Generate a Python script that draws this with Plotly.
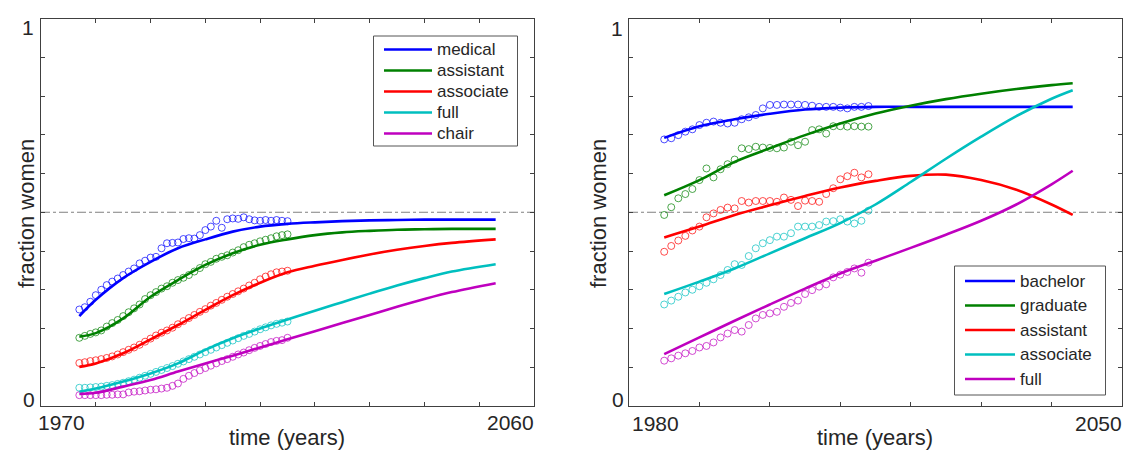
import plotly.graph_objects as go

# ---------------- data: left panel (academic medicine) ----------------
L_data_years = list(range(1977, 2016))
L_medical_pts = [.249, .255, .269, .286, .300, .312, .321, .329, .338, .347, .355, .368, .375,
                 .383, .385, .407, .420, .421, .422, .431, .433, .432, .441, .454, .463, .478,
                 .460, .482, .484, .483, .487, .482, .479, .478, .480, .478, .480, .478, .477]
L_assistant_pts = [.176, .181, .186, .190, .195, .205, .214, .222, .232, .242, .252, .262, .276,
                   .286, .294, .303, .309, .318, .325, .331, .338, .347, .356, .366, .372, .380,
                   .385, .389, .396, .402, .410, .416, .420, .425, .429, .433, .438, .441, .443]
L_associate_pts = [.111, .113, .116, .118, .121, .124, .128, .133, .139, .145, .151, .158, .166,
                   .174, .182, .189, .195, .202, .211, .219, .227, .235, .243, .250, .259, .266,
                   .274, .282, .289, .296, .303, .311, .318, .327, .334, .340, .345, .347, .349]
L_full_pts = [.047, .047, .048, .049, .050, .052, .054, .057, .060, .064, .068, .073, .078,
              .083, .088, .093, .098, .103, .109, .115, .121, .127, .133, .139, .145, .151,
              .157, .163, .169, .175, .181, .186, .192, .198, .203, .208, .212, .215, .218]
L_chair_pts = [.028, .028, .028, .028, .028, .029, .029, .030, .030, .035, .037, .038, .040,
               .042, .043, .045, .047, .052, .058, .070, .078, .085, .092, .098, .104, .110,
               .116, .121, .127, .133, .138, .144, .150, .155, .160, .165, .168, .170, .176]

L_model_years = [1977, 1980, 1985, 1990, 1995, 2000, 2005, 2010, 2015, 2020, 2025, 2030, 2035, 2040, 2045, 2053]
L_medical_fit = [.232, .274, .330, .372, .407, .430, .450, .463, .470, .474, .477, .479, .480, .481, .481, .481]
L_assistant_fit = [.179, .188, .226, .282, .325, .364, .394, .416, .430, .441, .448, .452, .455, .456, .457, .457]
L_associate_fit = [.101, .110, .136, .172, .209, .248, .286, .318, .345, .362, .377, .391, .403, .413, .421, .430]
L_full_fit = [.037, .045, .063, .084, .110, .145, .175, .200, .223, .246, .268, .290, .311, .330, .347, .366]
L_chair_fit = [.031, .034, .050, .067, .089, .110, .130, .151, .172, .193, .214, .235, .256, .276, .294, .317]

# ---------------- data: right panel (science & engineering) ----------------
R_data_years = list(range(1985, 2015))
R_bachelor_pts = [.688, .691, .699, .708, .714, .725, .731, .734, .731, .729, .731, .740, .745, .751, .768,
                  .777, .777, .778, .778, .778, .777, .775, .772, .772, .772, .770, .768, .772, .772, .774]
R_graduate_pts = [.493, .513, .536, .547, .560, .583, .613, .590, .611, .624, .636, .665, .663, .669, .667,
                  .666, .665, .667, .682, .673, .682, .712, .714, .703, .722, .722, .721, .722, .721, .721]
R_assistant_pts = [.398, .413, .427, .439, .453, .463, .487, .497, .506, .512, .510, .529, .525, .529, .529,
                   .529, .527, .538, .532, .516, .530, .529, .527, .547, .562, .585, .593, .602, .590, .598]
R_associate_pts = [.262, .272, .282, .293, .300, .309, .318, .327, .338, .351, .366, .364, .387, .407, .420,
                   .428, .437, .437, .446, .463, .463, .463, .467, .476, .477, .482, .476, .471, .478, .504]
R_full_pts = [.117, .123, .130, .136, .142, .151, .155, .164, .177, .187, .196, .192, .209, .226, .235,
              .239, .243, .256, .266, .272, .289, .299, .308, .314, .332, .339, .346, .355, .344, .370]

R_model_years = [1985, 1990, 1995, 2000, 2005, 2010, 2015, 2020, 2025, 2030, 2035, 2040, 2043]
R_bachelor_fit = [.692, .722, .740, .754, .765, .770, .772, .772, .772, .772, .772, .772, .772]
R_graduate_fit = [.544, .583, .630, .665, .699, .729, .755, .775, .792, .806, .818, .828, .833]
R_assistant_fit = [.435, .463, .493, .518, .542, .564, .581, .594, .597, .583, .558, .520, .493]
R_associate_fit = [.289, .321, .355, .394, .433, .472, .520, .578, .638, .695, .748, .793, .815]
R_full_fit = [.134, .177, .220, .262, .303, .342, .375, .408, .442, .478, .520, .572, .607]

# legend labels
L_labels = ["medical", "assistant", "associate", "full", "chair"]
R_labels = ["bachelor", "graduate", "assistant", "associate", "full"]

# ---------------- styling ----------------
C_BLUE, C_GREEN, C_RED, C_CYAN, C_MAG = "#0000FF", "#008000", "#FF0000", "#00BFBF", "#BF00BF"
COLORS = [C_BLUE, C_GREEN, C_RED, C_CYAN, C_MAG]
FONT = "Liberation Sans, Arial, sans-serif"
TXT = "#262626"
AX = "#404040"
W, H = 1141, 453


def px(x):
    return x / W


def py(y):
    return 1 - y / H


fig = go.Figure()

left_pts = [L_medical_pts, L_assistant_pts, L_associate_pts, L_full_pts, L_chair_pts]
left_fit = [L_medical_fit, L_assistant_fit, L_associate_fit, L_full_fit, L_chair_fit]
right_pts = [R_bachelor_pts, R_graduate_pts, R_assistant_pts, R_associate_pts, R_full_pts]
right_fit = [R_bachelor_fit, R_graduate_fit, R_assistant_fit, R_associate_fit, R_full_fit]

for pts, col in zip(left_pts, COLORS):
    fig.add_trace(go.Scatter(x=L_data_years, y=pts, mode="markers", xaxis="x", yaxis="y",
                             marker=dict(symbol="circle-open", size=7, color=col, opacity=0.7,
                                         line=dict(width=1, color=col)),
                             hoverinfo="skip"))
for pts, col in zip(right_pts, COLORS):
    fig.add_trace(go.Scatter(x=R_data_years, y=pts, mode="markers", xaxis="x2", yaxis="y2",
                             marker=dict(symbol="circle-open", size=7, color=col, opacity=0.7,
                                         line=dict(width=1, color=col)),
                             hoverinfo="skip"))
for name, fit, col in zip(L_labels, left_fit, COLORS):
    fig.add_trace(go.Scatter(x=L_model_years, y=fit, mode="lines", xaxis="x", yaxis="y", name=name,
                             line=dict(color=col, width=2.6, shape="spline")))
for name, fit, col in zip(R_labels, right_fit, COLORS):
    fig.add_trace(go.Scatter(x=R_model_years, y=fit, mode="lines", xaxis="x2", yaxis="y2", name=name,
                             line=dict(color=col, width=2.6, shape="spline")))

axis_common = dict(showline=True, linecolor=AX, linewidth=1, mirror="allticks", ticks="inside",
                   ticklen=4, tickcolor=AX, tickwidth=1, showgrid=False, zeroline=False,
                   showticklabels=False)
ydom = [py(406), py(18.5)]
fig.update_layout(
    width=W, height=H, autosize=False,
    margin=dict(l=0, r=0, t=0, b=0),
    paper_bgcolor="white", plot_bgcolor="white",
    showlegend=False,
    xaxis=dict(domain=[px(41), px(534)], range=[1970, 2060], tick0=1970, dtick=10, anchor="y", **axis_common),
    yaxis=dict(domain=ydom, range=[0, 1], dtick=0.1, anchor="x", **axis_common),
    xaxis2=dict(domain=[px(629), px(1122)], range=[1980, 2050], tick0=1980, dtick=10, anchor="y2", **axis_common),
    yaxis2=dict(domain=ydom, range=[0, 1], dtick=0.1, anchor="x2", **axis_common),
)

# half-way reference lines
for xr, yr in (("x domain", "y"), ("x2 domain", "y2")):
    fig.add_shape(type="line", xref=xr, yref=yr, x0=0, x1=1, y0=0.5, y1=0.5,
                  line=dict(color="#808080", width=1, dash="dashdot"), layer="below")


def ann(text, x, y, xa, ya, size=20, angle=0):
    fig.add_annotation(text=text, x=x, y=y, xref="paper", yref="paper", xanchor=xa, yanchor=ya,
                       showarrow=False, textangle=angle, borderpad=0,
                       font=dict(family=FONT, size=size, color=TXT))


# legends (boxed key: line sample + label)
def legend(labels, box, rows, line_x0, line_x1, text_x):
    x0, y0, x1, y1 = box
    fig.add_shape(type="rect", xref="paper", yref="paper", x0=px(x0), x1=px(x1), y0=py(y1), y1=py(y0),
                  line=dict(color="#555555", width=1), fillcolor="white", layer="above")
    for lab, col, yy in zip(labels, COLORS, rows):
        fig.add_shape(type="line", xref="paper", yref="paper", x0=px(line_x0), x1=px(line_x1),
                      y0=py(yy), y1=py(yy), line=dict(color=col, width=2.6), layer="above")
        ann(lab, px(text_x), py(yy), "left", "middle", size=17)


legend(L_labels, (373.5, 36, 517.5, 146), [49.5, 70.5, 91.5, 112.5, 133.5], 384, 432, 436)
legend(R_labels, (954.5, 266, 1105.5, 395), [281, 305.5, 330, 354.5, 379], 965, 1015, 1019)

# tick labels (ends only)
ann("1970", px(37), py(422.5), "left", "middle", size=21)
ann("2060", px(535), py(422.5), "right", "middle", size=21)
ann("1980", px(631), py(423), "left", "middle", size=21)
ann("2050", px(1123), py(423), "right", "middle", size=21)
ann("1", px(35), py(28), "right", "middle", size=21)
ann("0", px(36), py(399.5), "right", "middle", size=21)
ann("1", px(624), py(28.5), "right", "middle", size=21)
ann("0", px(625), py(399.5), "right", "middle", size=21)
# axis titles
ann("time (years)", px(287), py(437), "center", "middle", size=22)
ann("time (years)", px(875), py(437), "center", "middle", size=22)
ann("fraction women", px(26), py(214), "center", "middle", size=22, angle=-90)
ann("fraction women", px(598), py(214), "center", "middle", size=22, angle=-90)

fig.write_html("out.html")
